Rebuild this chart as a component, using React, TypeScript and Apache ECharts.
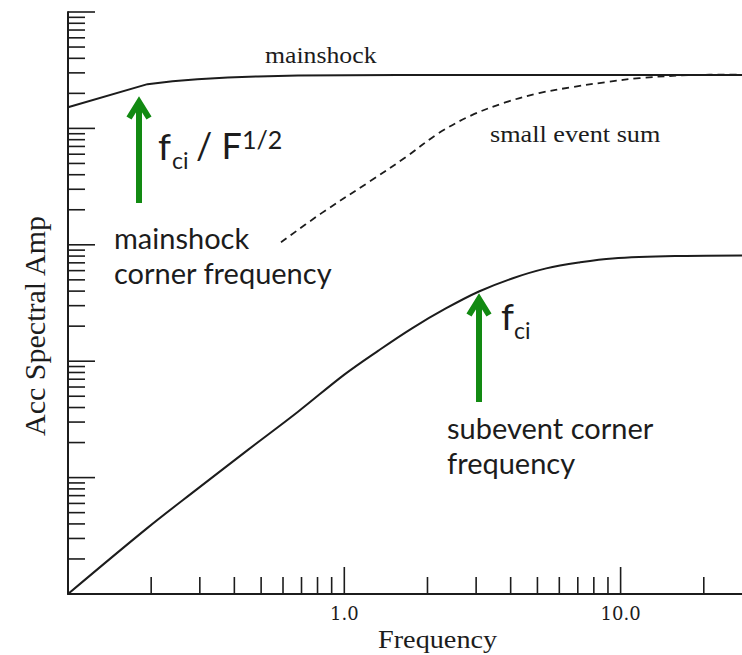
import React, { useEffect, useRef } from "react";
import * as echarts from "echarts";

// ---- data ----
const mainshockFreq = [0.1, 0.194, 0.239, 0.294, 0.379, 0.487, 0.68, 1.57, 5, 27.5];
const mainshockAmp = [15200, 24000, 25470, 26490, 27310, 27980, 28440, 28710, 28710, 28710];

const smallSumFreq = [0.59, 0.825, 1.254, 1.667, 2.196, 2.896, 3.85, 5.07, 6.69, 8.89, 11.7, 17.8, 27.0];
const smallSumAmp = [1050, 1862, 3581, 5649, 9099, 13000, 16790, 20090, 22650, 25000, 27040, 28700, 29000];

const subeventFreq = [0.1, 0.194, 0.294, 0.448, 0.68, 1.0, 1.329, 1.752, 2.33, 3.07, 4.05, 5.38, 7.1, 9.35, 16.4, 27.5];
const subeventAmp = [1, 3.7, 8.0, 17.3, 36.8, 76.7, 123.4, 190.8, 283.7, 397, 514, 627, 706, 764, 802, 811];

const xMinorTicks = [0.2, 0.3, 0.4, 0.5, 0.6, 0.7, 0.8, 0.9, 2, 3, 4, 5, 6, 7, 8, 9, 20];
const xMajorTicks = [1, 10];
const xLabelValues = [1, 10];
const xLabelTexts = ["1.0", "10.0"];
const yDecades = [1, 10, 100, 1000, 10000];
const yMinorMultipliers = [2, 3, 4, 5, 6, 7, 8, 9];
const yMajorTicks = [10, 100, 1000, 10000, 100000];

const X_MIN = 0.1;
const X_MAX = 27.5;
const Y_MIN = 1;
const Y_MAX = 100000;

const INK = "#1c1c1c";
const GREEN = "#128a12";
const SERIF = "'Liberation Serif', 'Times New Roman', serif";
const SANS = "Lato, 'Open Sans', sans-serif";

function pairs(xs: number[], ys: number[]) {
  return xs.map((x, i) => [x, ys[i]]);
}

export default function App() {
  const ref = useRef<HTMLDivElement>(null);

  useEffect(() => {
    if (!ref.current) return;
    const chart = echarts.init(ref.current, null, { renderer: "svg" });

    // tick data: [x, y, kind]  kind 0 = x minor, 1 = x major, 2 = y minor, 3 = y major
    const tickData: number[][] = [];
    xMinorTicks.forEach((v) => tickData.push([v, Y_MIN, 0]));
    xMajorTicks.forEach((v) => tickData.push([v, Y_MIN, 1]));
    yDecades.forEach((d) =>
      yMinorMultipliers.forEach((m) => tickData.push([X_MIN, d * m, 2]))
    );
    yMajorTicks.forEach((v) => tickData.push([X_MIN, v, 3]));

    const text = (
      t: string,
      x: number,
      y: number,
      size: number,
      family: string,
      extra: any = {}
    ) => ({
      type: "text",
      x,
      y,
      z: 100,
      ...extra,
      style: {
        text: t,
        fontSize: size,
        fontFamily: family,
        fill: INK,
        align: extra.align || "left",
        verticalAlign: "middle",
      },
    });

    const arrow = (x: number, tipY: number, bottomY: number) => [
      {
        type: "line",
        z: 90,
        shape: { x1: x, y1: tipY + 4, x2: x, y2: bottomY },
        style: { stroke: GREEN, lineWidth: 6 },
      },
      {
        type: "polyline",
        z: 90,
        shape: {
          points: [
            [x - 10, tipY + 18],
            [x, tipY + 2],
            [x + 10, tipY + 18],
          ],
        },
        style: { stroke: GREEN, lineWidth: 6, fill: null, lineJoin: "miter", lineCap: "butt" },
      },
    ];

    const option: any = {
      animation: false,
      backgroundColor: "#ffffff",
      grid: {
        left: 68,
        right: 0,
        top: 12,
        bottom: 61,
        containLabel: false,
        outerBoundsMode: "none",
      },
      xAxis: {
        type: "log",
        logBase: 10,
        min: X_MIN,
        max: X_MAX,
        axisLine: { show: true, lineStyle: { color: INK, width: 2 } },
        axisTick: { show: false },
        minorTick: { show: false },
        splitLine: { show: false },
        axisLabel: {
          show: true,
          margin: 10,
          fontFamily: "'DejaVu Serif', serif",
          fontSize: 18,
          color: INK,
          formatter: (v: number) => {
            const i = xLabelValues.findIndex((lv) => Math.abs(lv - v) < 1e-6 * lv);
            return i >= 0 ? xLabelTexts[i] : "";
          },
        },
      },
      yAxis: {
        type: "log",
        logBase: 10,
        min: Y_MIN,
        max: Y_MAX,
        axisLine: { show: true, lineStyle: { color: INK, width: 2 } },
        axisTick: { show: false },
        minorTick: { show: false },
        splitLine: { show: false },
        axisLabel: { show: false },
      },
      series: [
        {
          name: "ticks",
          type: "custom",
          clip: false,
          silent: true,
          data: tickData,
          encode: { x: 0, y: 1 },
          renderItem: (_params: any, api: any) => {
            const p = api.coord([api.value(0), api.value(1)]);
            const k = api.value(2);
            const len = k === 1 || k === 3 ? 27 : 17;
            const x2 = k < 2 ? p[0] : p[0] + len;
            const y2 = k < 2 ? p[1] - len : p[1];
            return {
              type: "line",
              shape: { x1: p[0], y1: p[1], x2, y2 },
              style: { stroke: INK, lineWidth: 1.6 },
            };
          },
        },
        {
          name: "mainshock",
          type: "line",
          data: pairs(mainshockFreq, mainshockAmp),
          showSymbol: false,
          symbol: "none",
          smooth: false,
          lineStyle: { color: INK, width: 2 },
        },
        {
          name: "small event sum",
          type: "line",
          data: pairs(smallSumFreq, smallSumAmp),
          showSymbol: false,
          symbol: "none",
          smooth: 0.35,
          lineStyle: { color: INK, width: 1.8, type: [7, 5] },
        },
        {
          name: "subevent",
          type: "line",
          data: pairs(subeventFreq, subeventAmp),
          showSymbol: false,
          symbol: "none",
          smooth: 0.35,
          lineStyle: { color: INK, width: 2 },
        },
      ],
      graphic: [
        text("mainshock", 265, 55, 23, SERIF, { scaleX: 1.12 }),
        text("small event sum", 490, 134, 23, SERIF, { scaleX: 1.14 }),
        text("Frequency", 378, 640, 25, SERIF, { scaleX: 1.13 }),
        text("Acc Spectral Amp", 34, 326, 30, SERIF, {
          rotation: Math.PI / 2,
          align: "center",
        }),
        text("mainshock", 114, 237, 29, SANS),
        text("corner frequency", 114, 272, 29, SANS),
        text("subevent corner", 447, 427, 29, SANS),
        text("frequency", 447, 462, 29, SANS),
        text("f", 158, 145, 37, SANS),
        text("ci", 172, 160, 23, SANS),
        text("/ F", 196, 145, 36, SANS),
        text("1/2", 242, 139, 25, SANS),
        text("f", 501, 315, 37, SANS),
        text("ci", 514, 330, 23, SANS),
        ...arrow(139, 100, 203),
        ...arrow(479, 297, 402),
      ],
    };

    chart.setOption(option);
    return () => chart.dispose();
  }, []);

  return (
    <div
      ref={ref}
      style={{ position: "absolute", left: 0, top: 0, width: 742, height: 655, background: "#fff" }}
    />
  );
}
